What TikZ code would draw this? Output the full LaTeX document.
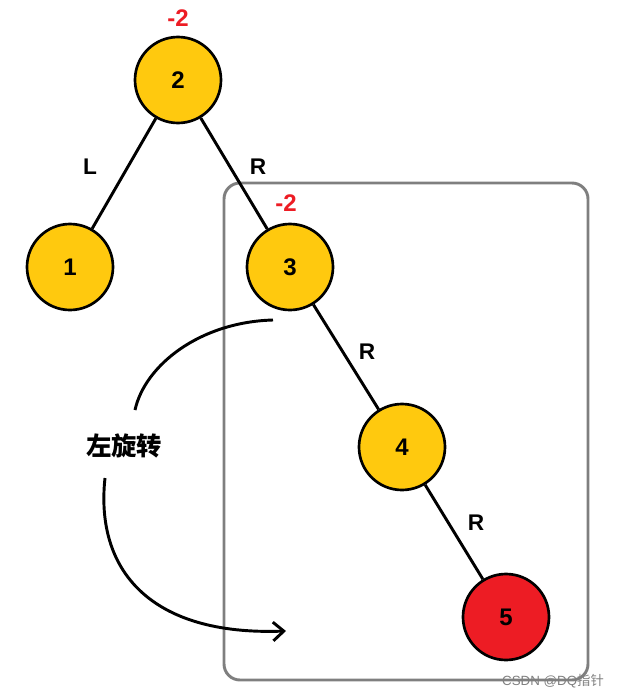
\documentclass[tikz,border=0pt]{standalone}
\usepackage{fontspec}
\setmainfont{Liberation Sans}
\newfontfamily\cjk{Noto Sans CJK SC}
\usetikzlibrary{arrows.meta}
\definecolor{nodey}{HTML}{FFC90E}
\definecolor{noder}{HTML}{ED1C24}
\definecolor{boxg}{HTML}{7F7F7F}
\begin{document}
\begin{tikzpicture}[x=0.75pt,y=-0.75pt,
  tn/.style={circle,draw=black,line width=2pt,fill=nodey,minimum size=64.5pt,inner sep=0pt,font=\bfseries\fontsize{18}{20}\selectfont},
  ed/.style={line width=2.2pt},
  lab/.style={font=\bfseries\fontsize{17}{20}\selectfont},
  bal/.style={font=\bfseries\fontsize{18}{20}\selectfont,text=noder}]
\useasboundingbox (0,0) rectangle (637,700);
\draw[boxg,line width=2.2pt,rounded corners=12pt] (224,183) rectangle (588,680);
\node[tn] (n2) at (178,80) {2};
\node[tn] (n1) at (70,267) {1};
\node[tn] (n3) at (290,267) {3};
\node[tn] (n4) at (402,447) {4};
\node[tn,fill=noder] (n5) at (506,617) {5};
\draw[ed] (n2) -- (n1);
\draw[ed] (n2) -- (n3);
\draw[ed] (n3) -- (n4);
\draw[ed] (n4) -- (n5);
\node[bal] (b2) at (178,18) {-2};
\node[bal] (b3) at (286,203) {-2};
\node[lab] (l1) at (90,167) {L};
\node[lab] (r1) at (258,167) {R};
\node[lab] (r2) at (367,352) {R};
\node[lab] (r3) at (476,523) {R};
\node[font=\cjk\bfseries\fontsize{19}{22}\selectfont] (rot) at (124,446) {左旋转};
\coordinate (s) at (273,320);
\coordinate (e) at (286,631);
\draw[line width=2.2pt] (s) .. controls (200,322) and (145,365) .. (135,410);
\draw[line width=2.2pt,-{Straight Barb[length=8pt,width=14pt]}] (105,478) .. controls (95,570) and (150,636) .. (e);
\node[text=gray,font=\fontsize{10}{12}\selectfont] (wm) at (553,681) {CSDN @DQ{\cjk 指针}};
\end{tikzpicture}
\end{document}
